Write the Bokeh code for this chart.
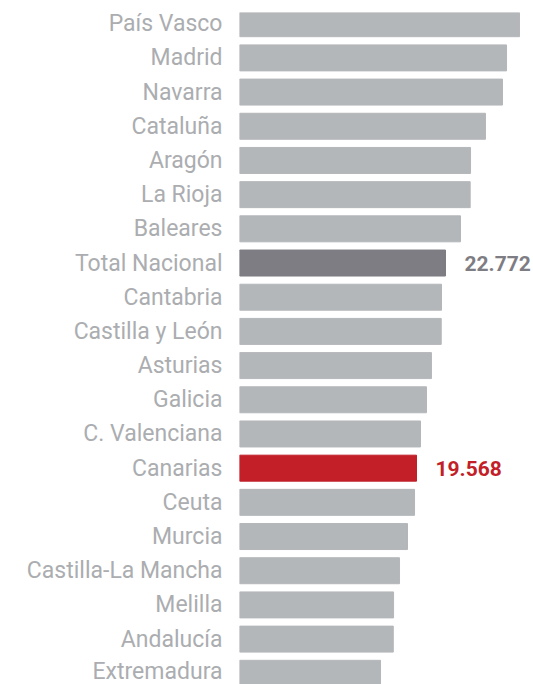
from bokeh.plotting import figure
from bokeh.models import FactorRange, Range1d, ColumnDataSource
from bokeh.core.properties import value
from bokeh.embed import file_html
from bokeh.resources import INLINE

regions = ["País Vasco", "Madrid", "Navarra", "Cataluña", "Aragón", "La Rioja",
           "Baleares", "Total Nacional", "Cantabria", "Castilla y León", "Asturias",
           "Galicia", "C. Valenciana", "Canarias", "Ceuta", "Murcia",
           "Castilla-La Mancha", "Melilla", "Andalucía", "Extremadura"]
values = [30950, 29520, 29070, 27190, 25540, 25500, 24430, 22772, 22330, 22300,
          21220, 20670, 20010, 19568, 19350, 18570, 17690, 17030, 17000, 15590]

highlight = {"Total Nacional": "#7e7d83", "Canarias": "#c21f28"}
base_color = "#b4b7ba"
colors = [highlight.get(r, base_color) for r in regions]

label_regions = ["Total Nacional", "Canarias"]
label_values = [values[regions.index(r)] for r in label_regions]
label_texts = [f"{v:,}".replace(",", ".") for v in label_values]
label_colors = [highlight[r] for r in label_regions]

p = figure(
    width=533, height=684,
    y_range=FactorRange(factors=list(reversed(regions)), range_padding=-0.1725,
                        range_padding_units="absolute"),
    x_range=Range1d(0, 32500),
    output_backend="svg", toolbar_location=None,
    x_axis_location=None,
    min_border_left=239, min_border_right=0, min_border_top=12, min_border_bottom=0,
)
p.outline_line_color = None
p.grid.grid_line_color = None
p.background_fill_color = "white"

src = ColumnDataSource(dict(region=regions, value=values, color=colors))
p.hbar(y="region", right="value", left=0, height=0.76, color="color", source=src)

lsrc = ColumnDataSource(dict(region=label_regions, value=label_values,
                             text=label_texts, color=label_colors))
p.text(x="value", y="region", text="text",
       text_color="color", source=lsrc, x_offset=19,
       text_font=value("Roboto"), text_font_style="bold", text_font_size="21px",
       text_baseline="middle", text_align="left")

ax = p.yaxis[0]
ax.axis_line_color = None
ax.major_tick_line_color = None
ax.minor_tick_line_color = None
ax.major_tick_out = 0
ax.major_tick_in = 0
ax.major_label_standoff = 17
ax.major_label_text_font = "Roboto"
ax.major_label_text_font_size = "23px"
ax.major_label_text_color = "#abadb0"

open("out.html", "w").write(file_html(p, INLINE))
